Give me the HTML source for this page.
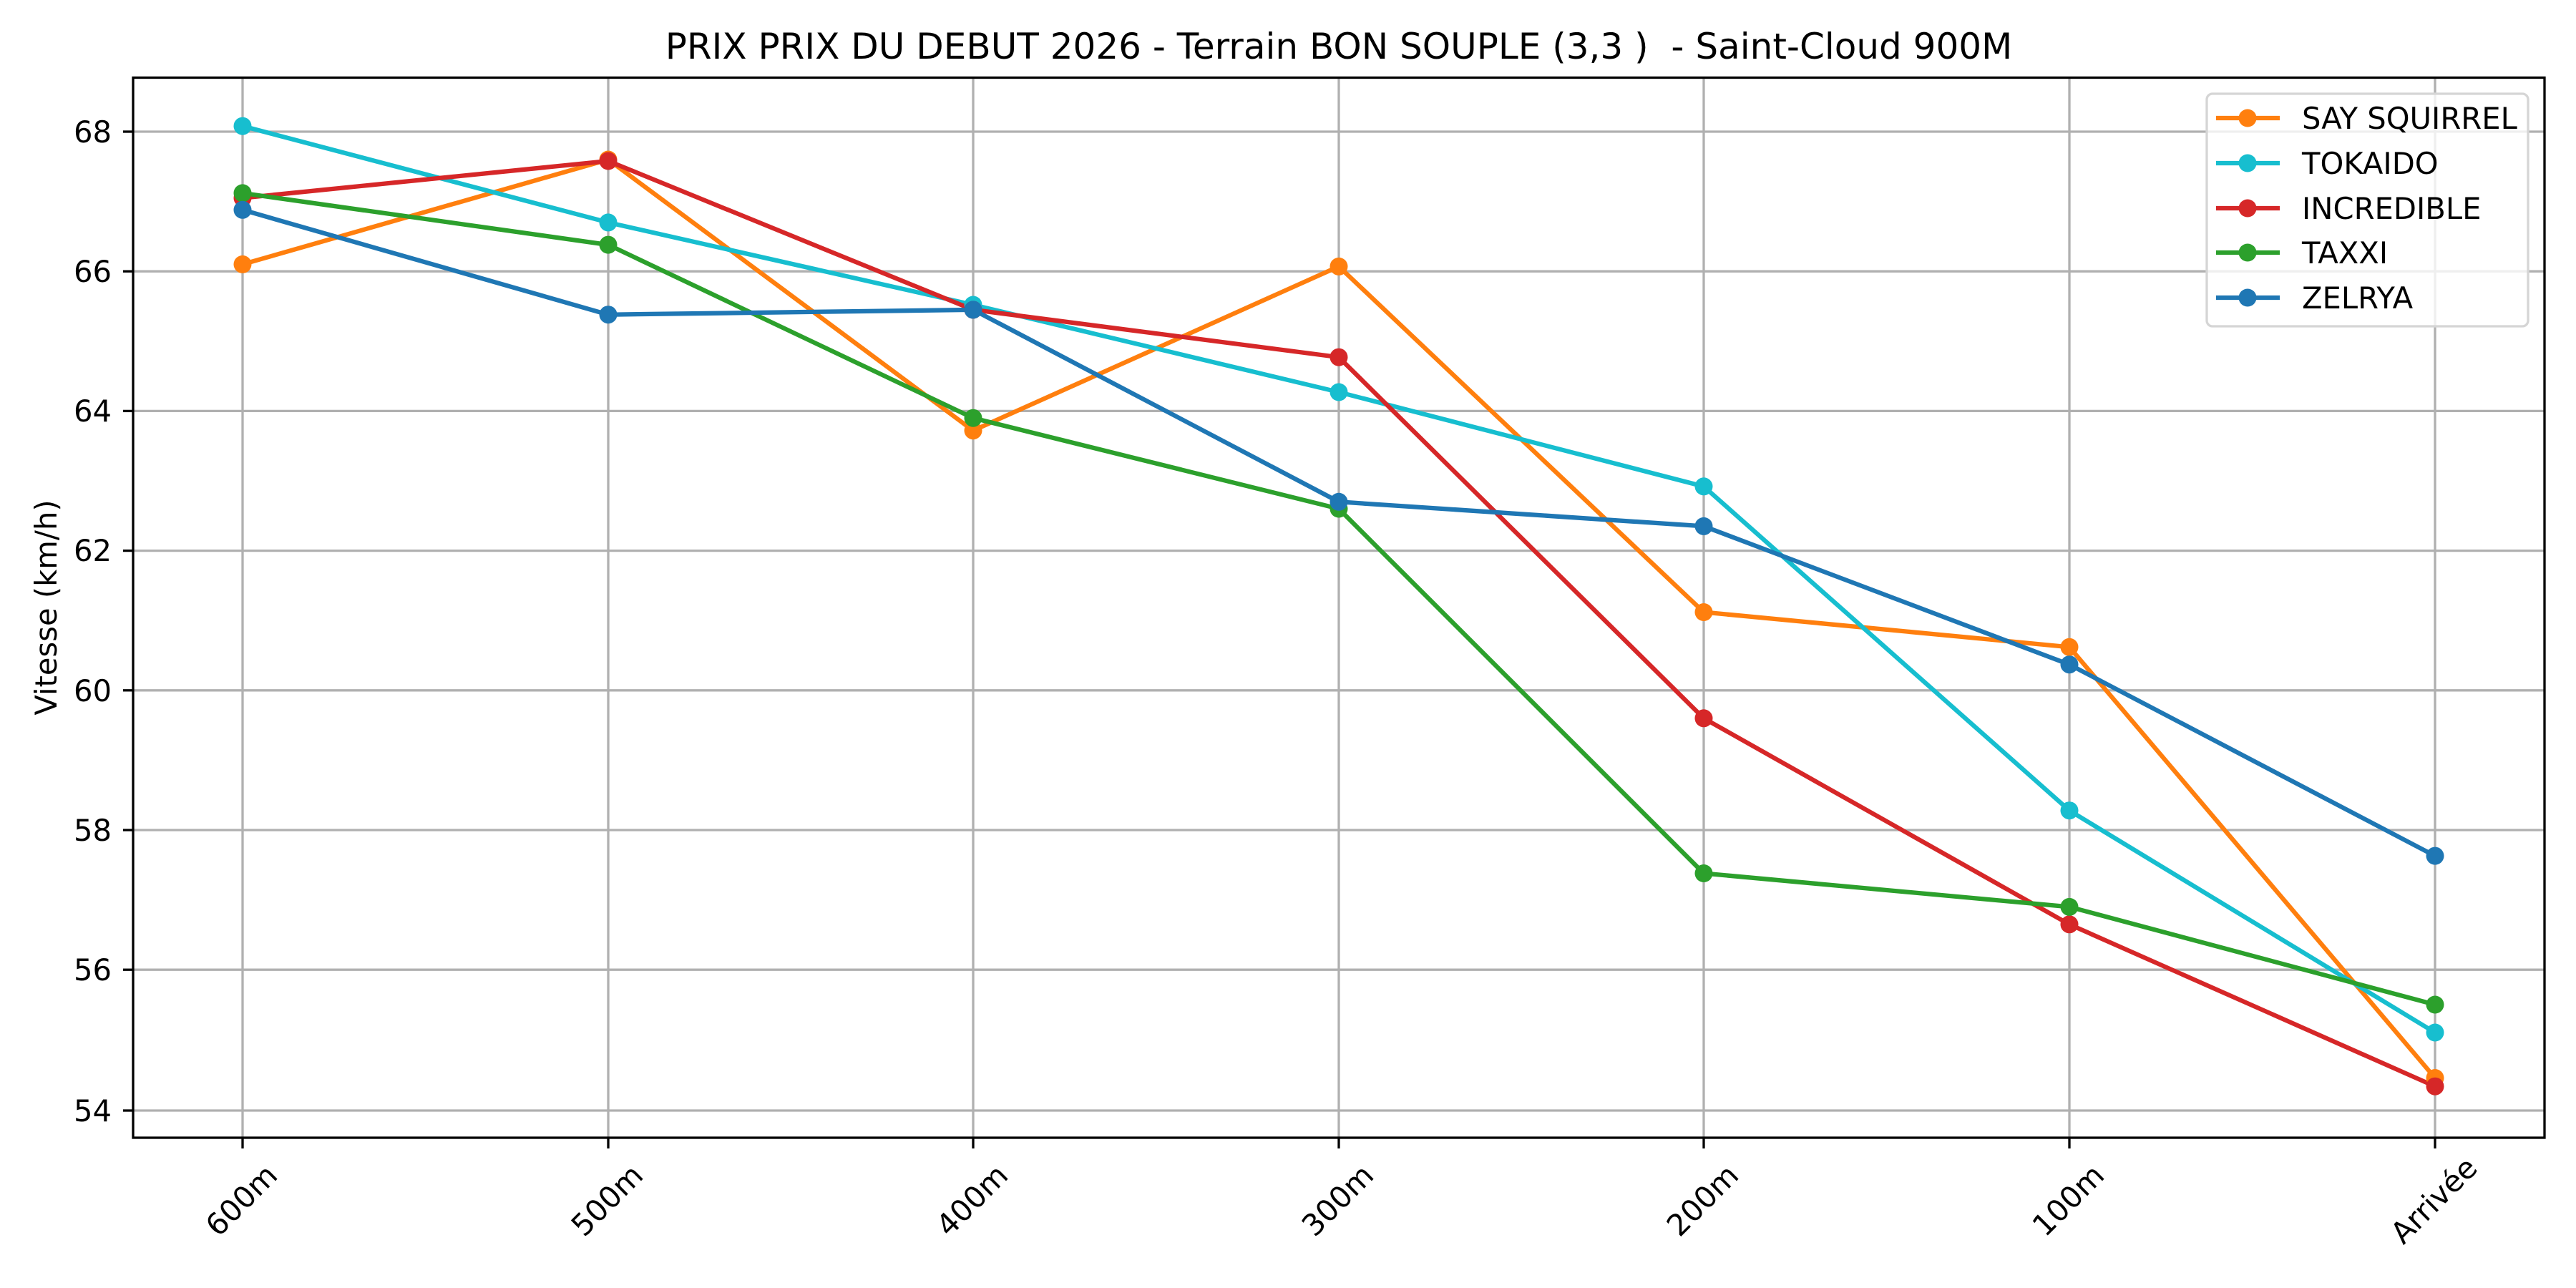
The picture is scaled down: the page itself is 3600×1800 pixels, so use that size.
<!DOCTYPE html>
<html><head><meta charset="utf-8"><style>html,body{margin:0;padding:0;background:#fff}svg{display:block}</style></head>
<body>
<svg width="3600" height="1800" xmlns="http://www.w3.org/2000/svg" font-family="'DejaVu Sans','Liberation Sans',sans-serif">
<rect width="3600" height="1800" fill="#fff"/>
<g stroke="#b0b0b0" stroke-width="3.3">
<line x1="339" y1="108" x2="339" y2="1590"/><line x1="850" y1="108" x2="850" y2="1590"/><line x1="1360" y1="108" x2="1360" y2="1590"/><line x1="1871" y1="108" x2="1871" y2="1590"/><line x1="2381" y1="108" x2="2381" y2="1590"/><line x1="2892" y1="108" x2="2892" y2="1590"/><line x1="3403" y1="108" x2="3403" y2="1590"/>
<line x1="186" y1="184" x2="3556" y2="184"/><line x1="186" y1="379.2" x2="3556" y2="379.2"/><line x1="186" y1="574.4" x2="3556" y2="574.4"/><line x1="186" y1="769.6" x2="3556" y2="769.6"/><line x1="186" y1="964.8" x2="3556" y2="964.8"/><line x1="186" y1="1160" x2="3556" y2="1160"/><line x1="186" y1="1355.2" x2="3556" y2="1355.2"/><line x1="186" y1="1552" x2="3556" y2="1552"/>
</g>
<g fill="none" stroke-width="6.25" stroke-linejoin="round">
<polyline stroke="#ff7f0e" points="339,369.4 850,223 1360,601.7 1871,372.4 2381,855.5 2892,904.3 3403,1506.5"/>
<polyline stroke="#17becf" points="339,176.2 850,310.9 1360,426 1871,548 2381,679.8 2892,1132.7 3403,1443"/>
<polyline stroke="#d62728" points="339,276.7 850,225 1360,432.9 1871,499.2 2381,1003.8 2892,1291.8 3403,1518.2"/>
<polyline stroke="#2ca02c" points="339,269.9 850,342.1 1360,584.2 1871,711 2381,1220.5 2892,1267.4 3403,1404"/>
<polyline stroke="#1f77b4" points="339,293.3 850,439.7 1360,432.9 1871,701.3 2381,735.4 2892,928.7 3403,1196.1"/>
</g>
<g fill="#ff7f0e"><circle cx="339" cy="369.4" r="12.5"/><circle cx="850" cy="223" r="12.5"/><circle cx="1360" cy="601.7" r="12.5"/><circle cx="1871" cy="372.4" r="12.5"/><circle cx="2381" cy="855.5" r="12.5"/><circle cx="2892" cy="904.3" r="12.5"/><circle cx="3403" cy="1506.5" r="12.5"/></g>
<g fill="#17becf"><circle cx="339" cy="176.2" r="12.5"/><circle cx="850" cy="310.9" r="12.5"/><circle cx="1360" cy="426" r="12.5"/><circle cx="1871" cy="548" r="12.5"/><circle cx="2381" cy="679.8" r="12.5"/><circle cx="2892" cy="1132.7" r="12.5"/><circle cx="3403" cy="1443" r="12.5"/></g>
<g fill="#d62728"><circle cx="339" cy="276.7" r="12.5"/><circle cx="850" cy="225" r="12.5"/><circle cx="1360" cy="432.9" r="12.5"/><circle cx="1871" cy="499.2" r="12.5"/><circle cx="2381" cy="1003.8" r="12.5"/><circle cx="2892" cy="1291.8" r="12.5"/><circle cx="3403" cy="1518.2" r="12.5"/></g>
<g fill="#2ca02c"><circle cx="339" cy="269.9" r="12.5"/><circle cx="850" cy="342.1" r="12.5"/><circle cx="1360" cy="584.2" r="12.5"/><circle cx="1871" cy="711" r="12.5"/><circle cx="2381" cy="1220.5" r="12.5"/><circle cx="2892" cy="1267.4" r="12.5"/><circle cx="3403" cy="1404" r="12.5"/></g>
<g fill="#1f77b4"><circle cx="339" cy="293.3" r="12.5"/><circle cx="850" cy="439.7" r="12.5"/><circle cx="1360" cy="432.9" r="12.5"/><circle cx="1871" cy="701.3" r="12.5"/><circle cx="2381" cy="735.4" r="12.5"/><circle cx="2892" cy="928.7" r="12.5"/><circle cx="3403" cy="1196.1" r="12.5"/></g>
<rect x="186" y="108.5" width="3370" height="1481.5" fill="none" stroke="#000" stroke-width="3.3"/>
<g stroke="#000" stroke-width="3.3">
<line x1="172" y1="184" x2="186" y2="184"/><line x1="172" y1="379.2" x2="186" y2="379.2"/><line x1="172" y1="574.4" x2="186" y2="574.4"/><line x1="172" y1="769.6" x2="186" y2="769.6"/><line x1="172" y1="964.8" x2="186" y2="964.8"/><line x1="172" y1="1160" x2="186" y2="1160"/><line x1="172" y1="1355.2" x2="186" y2="1355.2"/><line x1="172" y1="1552" x2="186" y2="1552"/>
<line x1="339" y1="1590" x2="339" y2="1605"/><line x1="850" y1="1590" x2="850" y2="1605"/><line x1="1360" y1="1590" x2="1360" y2="1605"/><line x1="1871" y1="1590" x2="1871" y2="1605"/><line x1="2381" y1="1590" x2="2381" y2="1605"/><line x1="2892" y1="1590" x2="2892" y2="1605"/><line x1="3403" y1="1590" x2="3403" y2="1605"/>
</g>
<g font-size="41.7" text-anchor="end" fill="#000">
<text x="156" y="199">68</text><text x="156" y="394">66</text><text x="156" y="589">64</text><text x="156" y="784">62</text><text x="156" y="980">60</text><text x="156" y="1175">58</text><text x="156" y="1370">56</text><text x="156" y="1567">54</text>
</g>
<g font-size="41.7" text-anchor="middle" fill="#000">
<text transform="translate(337,1677) rotate(-45)" dy="15">600m</text>
<text transform="translate(848,1677) rotate(-45)" dy="15">500m</text>
<text transform="translate(1358,1677) rotate(-45)" dy="15">400m</text>
<text transform="translate(1869,1677) rotate(-45)" dy="15">300m</text>
<text transform="translate(2379,1677) rotate(-45)" dy="15">200m</text>
<text transform="translate(2890,1677) rotate(-45)" dy="15">100m</text>
<text transform="translate(3401,1677) rotate(-45)" dy="15">Arrivée</text>
<text transform="translate(64,849) rotate(-90)" dy="15">Vitesse (km/h)</text>
<text x="1871" y="82" font-size="50" xml:space="preserve" style="white-space:pre">PRIX PRIX DU DEBUT 2026 - Terrain BON SOUPLE (3,3 )  - Saint-Cloud 900M</text>
</g>
<rect x="3084" y="131" width="449" height="325" rx="8" fill="#fff" fill-opacity="0.8" stroke="#d5d5d5" stroke-width="3.3"/>
<g stroke-width="6.25">
<line x1="3097" y1="165" x2="3186" y2="165" stroke="#ff7f0e"/><circle cx="3141" cy="165" r="12.5" fill="#ff7f0e"/>
<line x1="3097" y1="228" x2="3186" y2="228" stroke="#17becf"/><circle cx="3141" cy="228" r="12.5" fill="#17becf"/>
<line x1="3097" y1="291" x2="3186" y2="291" stroke="#d62728"/><circle cx="3141" cy="291" r="12.5" fill="#d62728"/>
<line x1="3097" y1="353" x2="3186" y2="353" stroke="#2ca02c"/><circle cx="3141" cy="353" r="12.5" fill="#2ca02c"/>
<line x1="3097" y1="416" x2="3186" y2="416" stroke="#1f77b4"/><circle cx="3141" cy="416" r="12.5" fill="#1f77b4"/>
</g>
<g font-size="41.7" fill="#000">
<text x="3217" y="180">SAY SQUIRREL</text><text x="3217" y="243">TOKAIDO</text><text x="3217" y="306">INCREDIBLE</text><text x="3217" y="368">TAXXI</text><text x="3217" y="431">ZELRYA</text>
</g>
</svg>
</body></html>
